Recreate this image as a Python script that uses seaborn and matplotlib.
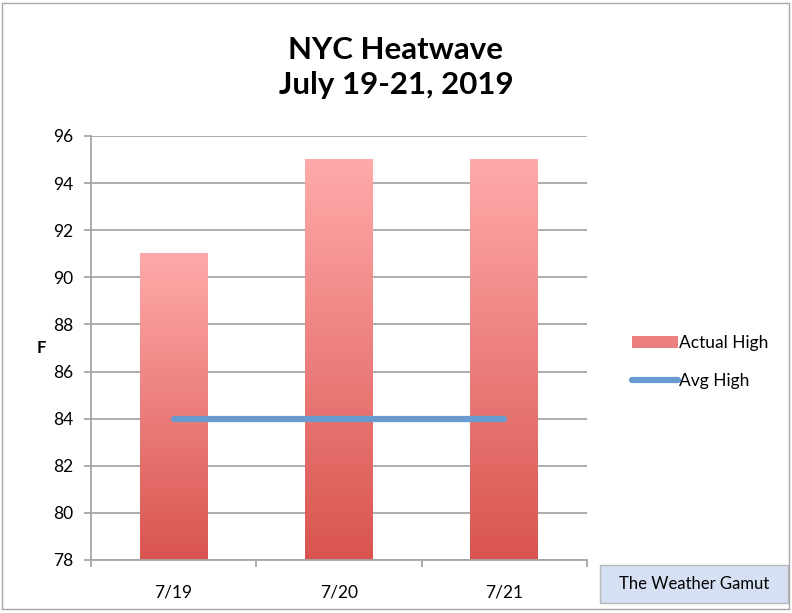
import numpy as np
import pandas as pd
import seaborn as sns
import matplotlib.pyplot as plt
from matplotlib.patches import Rectangle, Patch
from matplotlib.lines import Line2D
from matplotlib.colors import LinearSegmentedColormap

days = ["7/19", "7/20", "7/21"]
actual_high = [91, 95, 95]
avg_high = [84, 84, 84]

df = pd.DataFrame({"day": days, "actual": actual_high, "avg": avg_high})

sns.set_theme(style="white")
plt.rcParams["font.family"] = ["Lato", "DejaVu Sans"]
plt.rcParams["text.color"] = "black"
plt.rcParams["xtick.labelcolor"] = "black"
plt.rcParams["ytick.labelcolor"] = "black"
plt.rcParams["axes.labelcolor"] = "black"

fig = plt.figure(figsize=(7.92, 6.13), dpi=100)
ax = fig.add_axes([0.1149, 0.0865, 0.6263, 0.6917])

# bars start at the axis minimum like in the Excel original
y_min, y_max = 78, 96
sns.barplot(data=df, x="day", y="actual", ax=ax, width=0.41,
            color="#EC8080", zorder=2)
ax.set_ylim(y_min, y_max)

# swap each bar for a vertical gradient
grad_cmap = LinearSegmentedColormap.from_list("heat", ["#D9544F", "#FFAAAA"])
grad = np.linspace(0, 1, 256).reshape(-1, 1)
for patch in list(ax.patches):
    x0 = patch.get_x()
    w = patch.get_width()
    top = patch.get_y() + patch.get_height()
    ax.imshow(grad, extent=[x0, x0 + w, y_min, top], origin="lower",
              cmap=grad_cmap, aspect="auto", zorder=2)
    patch.set_visible(False)
ax.set_xlim(-0.5, 2.5)
ax.set_ylim(y_min, y_max)

sns.lineplot(data=df, x="day", y="avg", ax=ax, color="#6A9BD0",
             linewidth=4.5, solid_capstyle="round", zorder=3)

# axes styling
ax.set_yticks(range(78, 97, 2))
ax.yaxis.grid(True, color="#A6A6A6", linewidth=1.3, zorder=0)
ax.set_axisbelow(True)
for s in ["top", "right"]:
    ax.spines[s].set_visible(False)
for s in ["left", "bottom"]:
    ax.spines[s].set_color("#A6A6A6")
    ax.spines[s].set_linewidth(1.3)
ax.tick_params(axis="y", left=True, length=5, width=1.3, color="#A6A6A6",
               labelsize=12.5, pad=8)
ax.set_xticks([-0.5, 0.5, 1.5, 2.5], minor=True)
ax.tick_params(axis="x", which="minor", bottom=True, length=5, width=1.3,
               color="#A6A6A6")
ax.tick_params(axis="x", which="major", bottom=False, labelsize=12.5, pad=12)
ax.set_xlabel("")
ax.set_ylabel("F", rotation=0, fontsize=12, fontweight="bold", labelpad=8,
              va="center")

fig.text(0.5, 0.89, "NYC Heatwave\nJuly 19-21, 2019", ha="center", va="center",
         fontsize=22.5, fontweight="bold", linespacing=1.3)

handles = [Patch(facecolor="#EC8080", edgecolor="none"),
           Line2D([0], [0], color="#6A9BD0", linewidth=4.5,
                  solid_capstyle="round")]
ax.legend(handles, ["Actual High", "Avg High"], loc="center left",
          bbox_to_anchor=(1.06, 0.467), frameon=False, fontsize=12.5,
          handlelength=2.6, handletextpad=0.1, labelspacing=1.3)

# watermark box
fig.add_artist(Rectangle((0.7576, 0.0163), 0.2374, 0.062, transform=fig.transFigure,
                         facecolor="#D5E1F2", edgecolor="#B8B8B8", linewidth=1))
fig.text(0.876, 0.0473, "The Weather Gamut", ha="center", va="center",
         fontsize=12)

# outer chart border
fig.add_artist(Rectangle((0.003, 0.007), 0.993, 0.988, transform=fig.transFigure,
                         fill=False, edgecolor="#A6A6A6", linewidth=1))

fig.savefig("out.png", dpi=100)
